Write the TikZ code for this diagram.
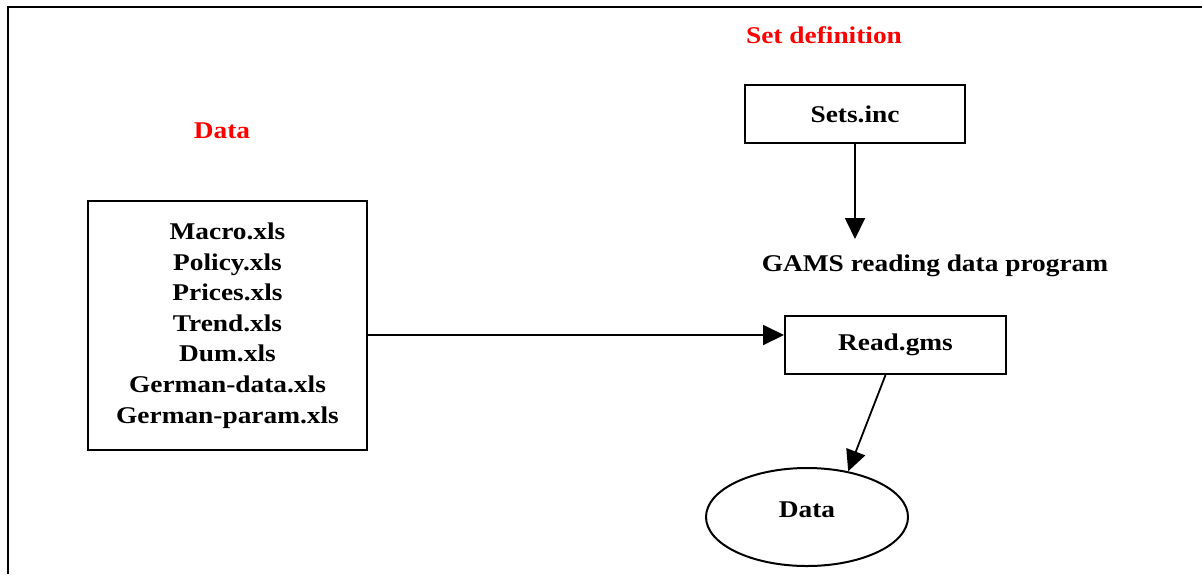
\documentclass[tikz,border=0pt]{standalone}
\usepackage{fontspec}
\setmainfont{Liberation Serif}[FakeStretch=1.14]
\usetikzlibrary{arrows.meta,shapes.geometric}
\begin{document}
\begin{tikzpicture}[x=0.5pt, y=-0.5pt, line width=1pt,
  font=\bfseries\fontsize{12}{15.3}\selectfont,
  title/.style={text=red},
  filebox/.style={draw, rectangle, inner sep=0pt},
  flow/.style={-{Triangle[length=10.5pt, width=10pt]}, line width=0.9pt}]
  \useasboundingbox (0,0) rectangle (1202,574);
  \draw[line width=1.1pt] (1202,7) -- (8,7) -- (8,574);
  \node[title] (setdef) at (824,35) {Set definition};
  \node[title] (datatitle) at (222,131) {Data};
  \node[filebox, minimum width=110pt, minimum height=29pt] (sets) at (855,114) {Sets.inc};
  \coordinate (setstip) at (855,239);
  \node (gams) at (935,266) {GAMS reading data program};
  \node[filebox, minimum width=110.5pt, minimum height=29pt] (read) at (895.5,345) {Read.gms};
  \node[filebox, align=center, minimum width=139.5pt, minimum height=124.5pt] (files) at (227.5,325.5)
    {Macro.xls\\Policy.xls\\Prices.xls\\Trend.xls\\Dum.xls\\German-data.xls\\German-param.xls};
  \node[draw, ellipse, inner sep=0pt, text depth=7.5pt, minimum width=101pt, minimum height=49pt] (data) at (807,517) {Data};
  \draw[flow] (sets.south) -- (setstip);
  \draw[flow] ([yshift=-4.75pt]files.east) -- ([yshift=5pt]read.west);
  \draw[flow] ([xshift=-5pt]read.south) -- (data.48);
\end{tikzpicture}
\end{document}
